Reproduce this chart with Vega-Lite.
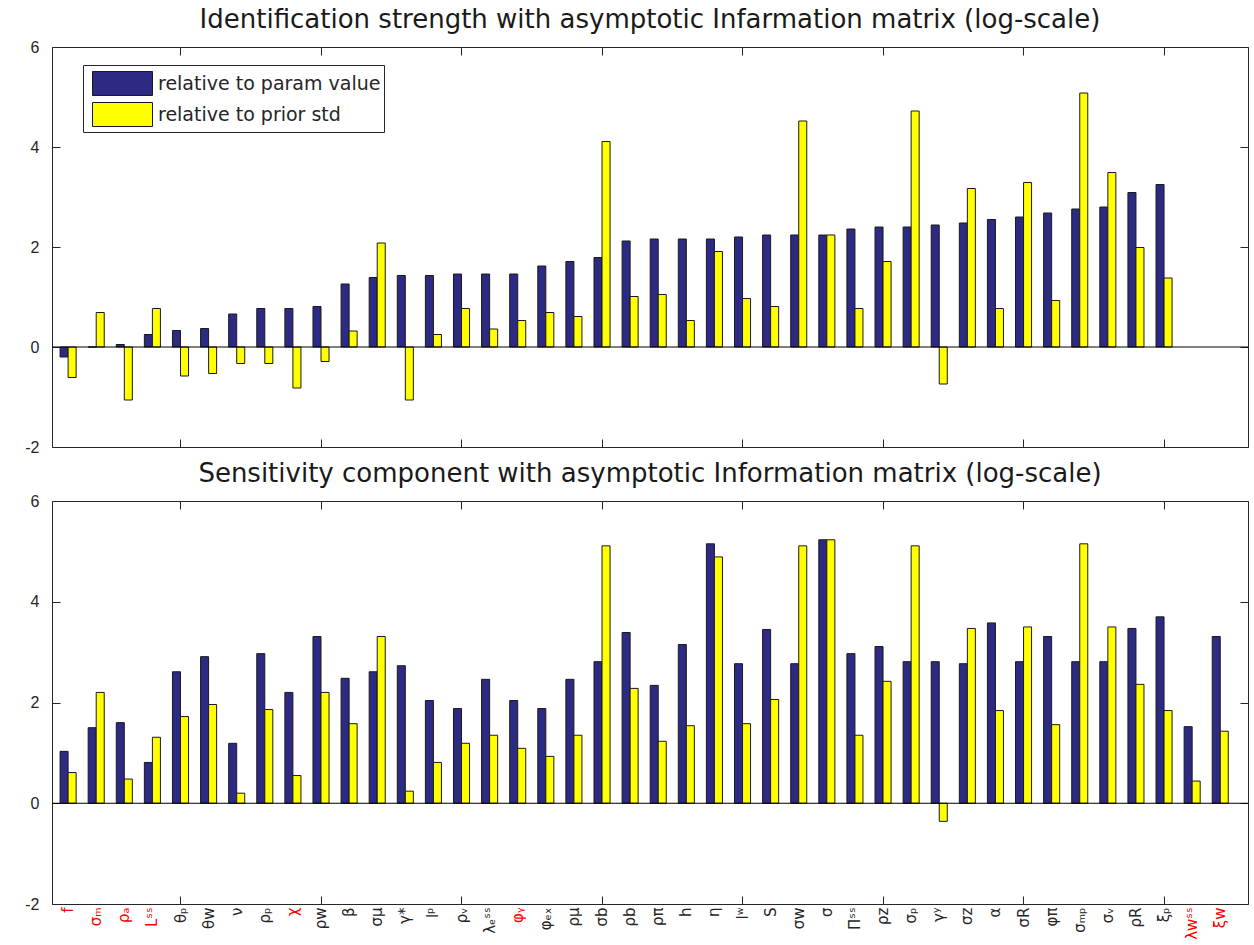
{
  "$schema": "https://vega.github.io/schema/vega-lite/v6.json",
  "background": "white",
  "padding": {"left": 24, "top": 6, "right": 6, "bottom": 0},
  "config": {
    "view": {"stroke": "#262626", "strokeWidth": 1},
    "axis": {"domain": false, "grid": false, "tickColor": "#262626", "tickSize": -8, "tickWidth": 1, "labelFont": "Liberation Sans", "labelFontSize": 16, "labelColor": "#262626", "title": null},
    "title": {"font": "DejaVu Sans", "fontSize": 26, "fontWeight": "normal", "color": "#1a1a1a", "anchor": "middle", "offset": 6}
  },
  "spacing": 4,
  "resolve": {"scale": {"x": "independent", "y": "independent", "color": "independent"}},
  "vconcat": [
    {
      "width": 1196,
      "height": 400,
      "title": "Identification strength with asymptotic Infarmation matrix (log-scale)",
      "data": {"values": [
        {"rank": 1, "series": "relative to param value", "value": -0.2}, {"rank": 1, "series": "relative to prior std", "value": -0.61},
        {"rank": 2, "series": "relative to param value", "value": 0.0}, {"rank": 2, "series": "relative to prior std", "value": 0.69},
        {"rank": 3, "series": "relative to param value", "value": 0.05}, {"rank": 3, "series": "relative to prior std", "value": -1.06},
        {"rank": 4, "series": "relative to param value", "value": 0.25}, {"rank": 4, "series": "relative to prior std", "value": 0.77},
        {"rank": 5, "series": "relative to param value", "value": 0.33}, {"rank": 5, "series": "relative to prior std", "value": -0.58},
        {"rank": 6, "series": "relative to param value", "value": 0.37}, {"rank": 6, "series": "relative to prior std", "value": -0.53},
        {"rank": 7, "series": "relative to param value", "value": 0.66}, {"rank": 7, "series": "relative to prior std", "value": -0.33},
        {"rank": 8, "series": "relative to param value", "value": 0.77}, {"rank": 8, "series": "relative to prior std", "value": -0.33},
        {"rank": 9, "series": "relative to param value", "value": 0.77}, {"rank": 9, "series": "relative to prior std", "value": -0.82},
        {"rank": 10, "series": "relative to param value", "value": 0.81}, {"rank": 10, "series": "relative to prior std", "value": -0.29},
        {"rank": 11, "series": "relative to param value", "value": 1.26}, {"rank": 11, "series": "relative to prior std", "value": 0.32},
        {"rank": 12, "series": "relative to param value", "value": 1.39}, {"rank": 12, "series": "relative to prior std", "value": 2.08},
        {"rank": 13, "series": "relative to param value", "value": 1.43}, {"rank": 13, "series": "relative to prior std", "value": -1.06},
        {"rank": 14, "series": "relative to param value", "value": 1.43}, {"rank": 14, "series": "relative to prior std", "value": 0.25},
        {"rank": 15, "series": "relative to param value", "value": 1.46}, {"rank": 15, "series": "relative to prior std", "value": 0.77},
        {"rank": 16, "series": "relative to param value", "value": 1.46}, {"rank": 16, "series": "relative to prior std", "value": 0.36},
        {"rank": 17, "series": "relative to param value", "value": 1.46}, {"rank": 17, "series": "relative to prior std", "value": 0.53},
        {"rank": 18, "series": "relative to param value", "value": 1.62}, {"rank": 18, "series": "relative to prior std", "value": 0.69},
        {"rank": 19, "series": "relative to param value", "value": 1.71}, {"rank": 19, "series": "relative to prior std", "value": 0.61},
        {"rank": 20, "series": "relative to param value", "value": 1.79}, {"rank": 20, "series": "relative to prior std", "value": 4.11},
        {"rank": 21, "series": "relative to param value", "value": 2.12}, {"rank": 21, "series": "relative to prior std", "value": 1.01},
        {"rank": 22, "series": "relative to param value", "value": 2.16}, {"rank": 22, "series": "relative to prior std", "value": 1.05},
        {"rank": 23, "series": "relative to param value", "value": 2.16}, {"rank": 23, "series": "relative to prior std", "value": 0.53},
        {"rank": 24, "series": "relative to param value", "value": 2.16}, {"rank": 24, "series": "relative to prior std", "value": 1.91},
        {"rank": 25, "series": "relative to param value", "value": 2.2}, {"rank": 25, "series": "relative to prior std", "value": 0.97},
        {"rank": 26, "series": "relative to param value", "value": 2.24}, {"rank": 26, "series": "relative to prior std", "value": 0.81},
        {"rank": 27, "series": "relative to param value", "value": 2.24}, {"rank": 27, "series": "relative to prior std", "value": 4.52},
        {"rank": 28, "series": "relative to param value", "value": 2.24}, {"rank": 28, "series": "relative to prior std", "value": 2.24},
        {"rank": 29, "series": "relative to param value", "value": 2.36}, {"rank": 29, "series": "relative to prior std", "value": 0.77},
        {"rank": 30, "series": "relative to param value", "value": 2.4}, {"rank": 30, "series": "relative to prior std", "value": 1.71},
        {"rank": 31, "series": "relative to param value", "value": 2.4}, {"rank": 31, "series": "relative to prior std", "value": 4.72},
        {"rank": 32, "series": "relative to param value", "value": 2.44}, {"rank": 32, "series": "relative to prior std", "value": -0.74},
        {"rank": 33, "series": "relative to param value", "value": 2.48}, {"rank": 33, "series": "relative to prior std", "value": 3.17},
        {"rank": 34, "series": "relative to param value", "value": 2.55}, {"rank": 34, "series": "relative to prior std", "value": 0.77},
        {"rank": 35, "series": "relative to param value", "value": 2.6}, {"rank": 35, "series": "relative to prior std", "value": 3.29},
        {"rank": 36, "series": "relative to param value", "value": 2.68}, {"rank": 36, "series": "relative to prior std", "value": 0.93},
        {"rank": 37, "series": "relative to param value", "value": 2.76}, {"rank": 37, "series": "relative to prior std", "value": 5.08},
        {"rank": 38, "series": "relative to param value", "value": 2.8}, {"rank": 38, "series": "relative to prior std", "value": 3.49},
        {"rank": 39, "series": "relative to param value", "value": 3.09}, {"rank": 39, "series": "relative to prior std", "value": 1.99},
        {"rank": 40, "series": "relative to param value", "value": 3.25}, {"rank": 40, "series": "relative to prior std", "value": 1.38}
      ]},
      "layer": [
        {
          "mark": {"type": "bar", "stroke": "#1a1a1a", "strokeWidth": 1},
          "encoding": {
            "x": {"field": "rank", "type": "ordinal",
              "scale": {"domain": [1,2,3,4,5,6,7,8,9,10,11,12,13,14,15,16,17,18,19,20,21,22,23,24,25,26,27,28,29,30,31,32,33,34,35,36,37,38,39,40,41,42], "paddingInner": 0, "paddingOuter": 0.28, "align": 0.13},
              "axis": {"orient": "bottom", "labels": false, "values": [5,10,15,20,25,30,35,40]}},
            "xOffset": {"field": "series", "type": "nominal", "scale": {"domain": ["relative to param value", "relative to prior std"], "paddingInner": 0, "paddingOuter": 0.75}},
            "y": {"field": "value", "type": "quantitative", "scale": {"domain": [-2, 6], "nice": false, "zero": false},
              "axis": {"orient": "left", "values": [-2, 0, 2, 4, 6], "labelPadding": 21, "labelExpr": "replace(datum.label, '−', '-')"}},
            "color": {"field": "series", "type": "nominal",
              "scale": {"domain": ["relative to param value", "relative to prior std"], "range": ["#2d2a83", "#ffff00"]},
              "legend": {"orient": "none", "legendX": 31, "legendY": 18, "title": null, "direction": "vertical",
                "strokeColor": "#262626", "fillColor": "white", "padding": 3,
                "symbolType": "M-2,-0.8L2,-0.8L2,0.8L-2,0.8Z", "symbolSize": 900, "symbolOffset": 21,
                "symbolStrokeColor": "#1a1a1a", "symbolStrokeWidth": 1, "symbolOpacity": 1,
                "labelFont": "DejaVu Sans", "labelFontSize": 19, "labelColor": "#262626", "labelOffset": 20, "labelLimit": 0, "rowPadding": 1}}
          }
        },
        {
          "data": {"values": [{}]},
          "mark": {"type": "rule", "color": "#000000", "strokeWidth": 1},
          "encoding": {"y": {"datum": 0, "type": "quantitative", "axis": {"orient": "right", "labels": false, "values": [-2, 0, 2, 4, 6]}}}
        },
        {
          "mark": {"type": "point", "opacity": 0},
          "encoding": {
            "x": {"field": "rank", "type": "ordinal",
              "scale": {"domain": [1,2,3,4,5,6,7,8,9,10,11,12,13,14,15,16,17,18,19,20,21,22,23,24,25,26,27,28,29,30,31,32,33,34,35,36,37,38,39,40,41,42]},
              "axis": {"orient": "top", "labels": false, "values": [5,10,15,20,25,30,35,40]}}
          }
        }
      ],
      "resolve": {"axis": {"x": "independent", "y": "independent"}}
    },
    {
      "width": 1196,
      "height": 403,
      "title": "Sensitivity component with asymptotic Information matrix (log-scale)",
      "data": {"values": [
        {"param": "f", "series": "relative to param value", "value": 1.03}, {"param": "f", "series": "relative to prior std", "value": 0.61},
        {"param": "σₘ", "series": "relative to param value", "value": 1.5}, {"param": "σₘ", "series": "relative to prior std", "value": 2.2},
        {"param": "ρₐ", "series": "relative to param value", "value": 1.6}, {"param": "ρₐ", "series": "relative to prior std", "value": 0.48},
        {"param": "Lˢˢ", "series": "relative to param value", "value": 0.81}, {"param": "Lˢˢ", "series": "relative to prior std", "value": 1.31},
        {"param": "θₚ", "series": "relative to param value", "value": 2.61}, {"param": "θₚ", "series": "relative to prior std", "value": 1.72},
        {"param": "θw", "series": "relative to param value", "value": 2.91}, {"param": "θw", "series": "relative to prior std", "value": 1.96},
        {"param": "ν", "series": "relative to param value", "value": 1.19}, {"param": "ν", "series": "relative to prior std", "value": 0.2},
        {"param": "ρₚ", "series": "relative to param value", "value": 2.97}, {"param": "ρₚ", "series": "relative to prior std", "value": 1.86},
        {"param": "χ", "series": "relative to param value", "value": 2.2}, {"param": "χ", "series": "relative to prior std", "value": 0.55},
        {"param": "ρw", "series": "relative to param value", "value": 3.31}, {"param": "ρw", "series": "relative to prior std", "value": 2.2},
        {"param": "β", "series": "relative to param value", "value": 2.48}, {"param": "β", "series": "relative to prior std", "value": 1.58},
        {"param": "σμ", "series": "relative to param value", "value": 2.61}, {"param": "σμ", "series": "relative to prior std", "value": 3.31},
        {"param": "γ*", "series": "relative to param value", "value": 2.73}, {"param": "γ*", "series": "relative to prior std", "value": 0.24},
        {"param": "lᵖ", "series": "relative to param value", "value": 2.04}, {"param": "lᵖ", "series": "relative to prior std", "value": 0.81},
        {"param": "ρᵥ", "series": "relative to param value", "value": 1.88}, {"param": "ρᵥ", "series": "relative to prior std", "value": 1.19},
        {"param": "λₑˢˢ", "series": "relative to param value", "value": 2.46}, {"param": "λₑˢˢ", "series": "relative to prior std", "value": 1.35},
        {"param": "φᵧ", "series": "relative to param value", "value": 2.04}, {"param": "φᵧ", "series": "relative to prior std", "value": 1.09},
        {"param": "φₑₓ", "series": "relative to param value", "value": 1.88}, {"param": "φₑₓ", "series": "relative to prior std", "value": 0.93},
        {"param": "ρμ", "series": "relative to param value", "value": 2.46}, {"param": "ρμ", "series": "relative to prior std", "value": 1.35},
        {"param": "σb", "series": "relative to param value", "value": 2.81}, {"param": "σb", "series": "relative to prior std", "value": 5.11},
        {"param": "ρb", "series": "relative to param value", "value": 3.39}, {"param": "ρb", "series": "relative to prior std", "value": 2.28},
        {"param": "ρπ", "series": "relative to param value", "value": 2.34}, {"param": "ρπ", "series": "relative to prior std", "value": 1.23},
        {"param": "h", "series": "relative to param value", "value": 3.15}, {"param": "h", "series": "relative to prior std", "value": 1.54},
        {"param": "η", "series": "relative to param value", "value": 5.15}, {"param": "η", "series": "relative to prior std", "value": 4.89},
        {"param": "lʷ", "series": "relative to param value", "value": 2.77}, {"param": "lʷ", "series": "relative to prior std", "value": 1.58},
        {"param": "S", "series": "relative to param value", "value": 3.45}, {"param": "S", "series": "relative to prior std", "value": 2.06},
        {"param": "σw", "series": "relative to param value", "value": 2.77}, {"param": "σw", "series": "relative to prior std", "value": 5.11},
        {"param": "σ", "series": "relative to param value", "value": 5.23}, {"param": "σ", "series": "relative to prior std", "value": 5.23},
        {"param": "Πˢˢ", "series": "relative to param value", "value": 2.97}, {"param": "Πˢˢ", "series": "relative to prior std", "value": 1.35},
        {"param": "ρz", "series": "relative to param value", "value": 3.11}, {"param": "ρz", "series": "relative to prior std", "value": 2.42},
        {"param": "σₚ", "series": "relative to param value", "value": 2.81}, {"param": "σₚ", "series": "relative to prior std", "value": 5.11},
        {"param": "γʸ", "series": "relative to param value", "value": 2.81}, {"param": "γʸ", "series": "relative to prior std", "value": -0.36},
        {"param": "σz", "series": "relative to param value", "value": 2.77}, {"param": "σz", "series": "relative to prior std", "value": 3.47},
        {"param": "α", "series": "relative to param value", "value": 3.58}, {"param": "α", "series": "relative to prior std", "value": 1.84},
        {"param": "σR", "series": "relative to param value", "value": 2.81}, {"param": "σR", "series": "relative to prior std", "value": 3.5},
        {"param": "φπ", "series": "relative to param value", "value": 3.31}, {"param": "φπ", "series": "relative to prior std", "value": 1.56},
        {"param": "σₘₚ", "series": "relative to param value", "value": 2.81}, {"param": "σₘₚ", "series": "relative to prior std", "value": 5.15},
        {"param": "σᵥ", "series": "relative to param value", "value": 2.81}, {"param": "σᵥ", "series": "relative to prior std", "value": 3.5},
        {"param": "ρR", "series": "relative to param value", "value": 3.47}, {"param": "ρR", "series": "relative to prior std", "value": 2.36},
        {"param": "ξₚ", "series": "relative to param value", "value": 3.7}, {"param": "ξₚ", "series": "relative to prior std", "value": 1.84},
        {"param": "λwˢˢ", "series": "relative to param value", "value": 1.52}, {"param": "λwˢˢ", "series": "relative to prior std", "value": 0.44},
        {"param": "ξw", "series": "relative to param value", "value": 3.31}, {"param": "ξw", "series": "relative to prior std", "value": 1.43}
      ]},
      "layer": [
        {
          "mark": {"type": "bar", "stroke": "#1a1a1a", "strokeWidth": 1},
          "encoding": {
            "x": {"field": "param", "type": "nominal",
              "scale": {"domain": ["f","σₘ","ρₐ","Lˢˢ","θₚ","θw","ν","ρₚ","χ","ρw","β","σμ","γ*","lᵖ","ρᵥ","λₑˢˢ","φᵧ","φₑₓ","ρμ","σb","ρb","ρπ","h","η","lʷ","S","σw","σ","Πˢˢ","ρz","σₚ","γʸ","σz","α","σR","φπ","σₘₚ","σᵥ","ρR","ξₚ","λwˢˢ","ξw"], "paddingInner": 0, "paddingOuter": 0.28, "align": 0.13},
              "axis": {"orient": "bottom", "labelAngle": -90, "labelFont": "DejaVu Sans", "labelFontSize": 15, "labelPadding": 11,
                "labelColor": {"condition": {"test": "indexof(['f','σₘ','ρₐ','Lˢˢ','χ','φᵧ','λwˢˢ','ξw'], datum.value) >= 0", "value": "#ff0000"}, "value": "#262626"},
                "tickOpacity": {"condition": {"test": "indexof(['θₚ','ρw','ρᵥ','σb','lʷ','ρz','σR','ξₚ'], datum.value) >= 0", "value": 1}, "value": 0}}},
            "xOffset": {"field": "series", "type": "nominal", "scale": {"domain": ["relative to param value", "relative to prior std"], "paddingInner": 0, "paddingOuter": 0.75}},
            "y": {"field": "value", "type": "quantitative", "scale": {"domain": [-2, 6], "nice": false, "zero": false},
              "axis": {"orient": "left", "values": [-2, 0, 2, 4, 6], "labelPadding": 21, "labelExpr": "replace(datum.label, '−', '-')"}},
            "color": {"field": "series", "type": "nominal",
              "scale": {"domain": ["relative to param value", "relative to prior std"], "range": ["#2d2a83", "#ffff00"]},
              "legend": null}
          }
        },
        {
          "data": {"values": [{}]},
          "mark": {"type": "rule", "color": "#000000", "strokeWidth": 1},
          "encoding": {"y": {"datum": 0, "type": "quantitative", "axis": {"orient": "right", "labels": false, "values": [-2, 0, 2, 4, 6]}}}
        },
        {
          "mark": {"type": "point", "opacity": 0},
          "encoding": {
            "x": {"field": "param", "type": "nominal",
              "scale": {"domain": ["f","σₘ","ρₐ","Lˢˢ","θₚ","θw","ν","ρₚ","χ","ρw","β","σμ","γ*","lᵖ","ρᵥ","λₑˢˢ","φᵧ","φₑₓ","ρμ","σb","ρb","ρπ","h","η","lʷ","S","σw","σ","Πˢˢ","ρz","σₚ","γʸ","σz","α","σR","φπ","σₘₚ","σᵥ","ρR","ξₚ","λwˢˢ","ξw"]},
              "axis": {"orient": "top", "labels": false, "values": ["θₚ","ρw","ρᵥ","σb","lʷ","ρz","σR","ξₚ"]}}
          }
        }
      ],
      "resolve": {"axis": {"x": "independent", "y": "independent"}}
    }
  ]
}
